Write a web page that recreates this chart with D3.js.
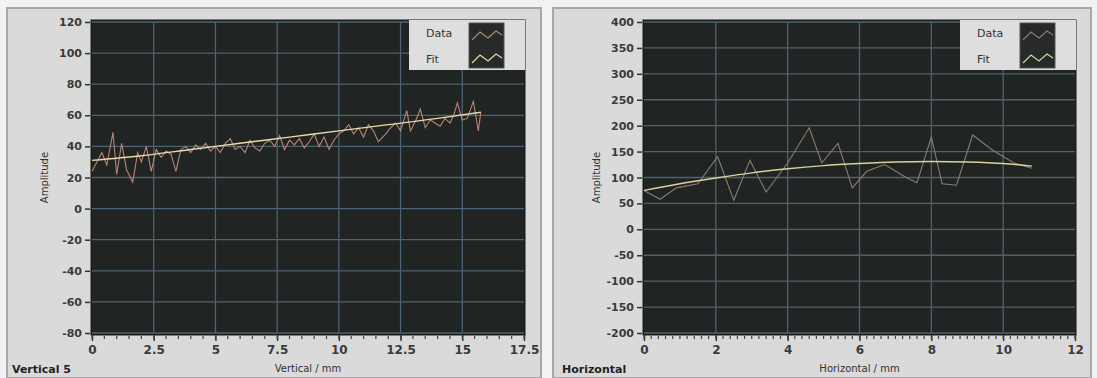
<!DOCTYPE html>
<html><head><meta charset="utf-8">
<script src="https://cdn.jsdelivr.net/npm/d3@7"></script>
<style>
body{margin:0;background:#f2f2f2;}
svg{display:block;}
text{font-family:"DejaVu Sans",sans-serif;}
</style></head><body>
<svg id="c" width="1097" height="378"></svg>
<script>
// ---- Left chart: Vertical 5 ----
const vX = [0,0.2,0.4,0.6,0.85,1.0,1.2,1.4,1.65,1.85,2.0,2.2,2.4,2.6,2.8,3.0,3.2,3.4,3.6,3.8,4.0,4.2,4.4,4.6,4.8,5.0,5.2,5.4,5.6,5.8,6.0,6.2,6.4,6.6,6.8,7.0,7.2,7.4,7.6,7.8,8.0,8.2,8.4,8.6,8.8,9.0,9.2,9.4,9.6,9.8,10.0,10.2,10.4,10.6,10.8,11.0,11.2,11.4,11.6,11.9,12.1,12.3,12.5,12.75,12.9,13.1,13.3,13.5,13.7,13.9,14.1,14.3,14.5,14.65,14.8,15.0,15.2,15.45,15.65,15.75];
const vData = [24,30,36,28,49,22,42,25,17,36,30,40,24,38,33,37,35,24,38,40,36,41,38,42,37,40,36,42,45,38,40,36,44,39,37,42,44,40,47,38,44,41,45,39,43,48,40,46,38,44,48,50,54,48,52,46,54,50,43,48,52,55,50,63,50,56,64,52,57,55,53,58,55,60,68,57,58,69,50,62];
const vFitX = [0,2,4,6,8,10,12,14,15.75];
const vFit = [31,34,38,42,46,50,54,58,62];
const vYTicks = [120,100,80,60,40,20,0,-20,-40,-60,-80];
const vXTicks = [0,2.5,5,7.5,10,12.5,15,17.5];

// ---- Right chart: Horizontal ----
const hX = [0,0.45,0.9,1.5,2.05,2.5,2.95,3.4,4.0,4.6,4.95,5.4,5.8,6.2,6.7,7.3,7.6,8.0,8.3,8.7,9.15,9.7,10.3,10.8];
const hData = [75,58,80,88,140,56,133,72,128,196,128,166,80,112,125,100,90,178,88,85,182,153,128,118];
const hFitX = [0,1,2,3,4,5,6,7,8,9,10,10.8];
const hFit = [75,88,99,109,117,123,127,130,131,130,127,122];
const hYTicks = [400,350,300,250,200,150,100,50,0,-50,-100,-150,-200];
const hXTicks = [0,2,4,6,8,10,12];

const svg = d3.select("#c");
const fmt = d => String(d);

function panel(x0, x1){
  svg.append("rect").attr("x",x0).attr("y",8).attr("width",x1-x0).attr("height",370)
    .attr("fill","#dadada").attr("stroke","#a8a8a8").attr("stroke-width",2);
}
panel(7,541);
panel(553,1091);

function chart(cfg){
  const g = svg.append("g");
  const x = d3.scaleLinear().domain(cfg.xDomain).range([cfg.left, cfg.right]);
  const y = d3.scaleLinear().domain(cfg.yDomain).range([cfg.bottom, cfg.top]);
  g.append("rect").attr("x",cfg.left-1).attr("y",cfg.top-2).attr("width",cfg.right-cfg.left+2)
    .attr("height",cfg.bottom-cfg.top+4).attr("fill","#202423").attr("stroke","#151717");
  g.append("g").selectAll("line").data(cfg.yTicks).join("line")
    .attr("x1",cfg.left).attr("x2",cfg.right).attr("y1",d=>y(d)).attr("y2",d=>y(d))
    .attr("stroke","#4d6272").attr("stroke-width",1.3);
  g.append("g").selectAll("line").data(cfg.xTicks.slice(1,-1)).join("line")
    .attr("y1",cfg.top).attr("y2",cfg.bottom).attr("x1",d=>x(d)).attr("x2",d=>x(d))
    .attr("stroke","#4d6272").attr("stroke-width",1.3);
  const ya = d3.axisLeft(y).tickValues(cfg.yTicks).tickFormat(fmt).tickSize(5).tickPadding(3);
  const yg = g.append("g").attr("transform",`translate(${cfg.left-2},0)`).call(ya);
  yg.select(".domain").remove();
  yg.selectAll("line").attr("stroke","#333").attr("stroke-width",1.5);
  yg.selectAll("text").attr("font-size",11).attr("font-family","DejaVu Sans Condensed, DejaVu Sans").attr("font-weight","bold").attr("fill","#3a3a3a");
  const xa = d3.axisBottom(x).tickValues(cfg.xTicks).tickFormat(fmt).tickSize(6).tickPadding(4);
  const xg = g.append("g").attr("transform",`translate(0,${cfg.bottom+2})`).call(xa);
  xg.select(".domain").remove();
  xg.selectAll("line").attr("stroke","#333").attr("stroke-width",1.5);
  xg.selectAll("text").attr("font-size",12).attr("font-weight","bold").attr("fill","#3a3a3a");
  const minor = d3.range(cfg.xDomain[0], cfg.xDomain[1]+1e-9, cfg.minorStep);
  g.append("g").selectAll("line").data(minor).join("line")
    .attr("x1",d=>x(d)).attr("x2",d=>x(d)).attr("y1",cfg.bottom+3).attr("y2",cfg.bottom+6)
    .attr("stroke","#444").attr("stroke-width",1.2);
  const line = d3.line().x(d=>x(d[0])).y(d=>y(d[1]));
  g.append("path").datum(cfg.dataX.map((v,i)=>[v,cfg.data[i]])).attr("d",line)
    .attr("fill","none").attr("stroke",cfg.dataColor).attr("stroke-width",1.1);
  g.append("path").datum(cfg.fitX.map((v,i)=>[v,cfg.fit[i]])).attr("d",d3.line().curve(d3.curveMonotoneX).x(d=>x(d[0])).y(d=>y(d[1])))
    .attr("fill","none").attr("stroke",cfg.fitColor).attr("stroke-width",1.4);
  const lx = cfg.right - 115, ly = cfg.top - 2;
  g.append("rect").attr("x",lx).attr("y",ly).attr("width",116).attr("height",50).attr("fill","#dedede");
  g.append("text").attr("x",lx+17).attr("y",ly+17).text("Data").attr("font-size",11).attr("fill","#333");
  g.append("text").attr("x",lx+17).attr("y",ly+43).text("Fit").attr("font-size",11).attr("fill","#333");
  g.append("rect").attr("x",lx+60).attr("y",ly+3).attr("width",35).attr("height",45)
    .attr("fill","#262a28").attr("stroke","#555");
  const zz = (yy,col)=> g.append("polyline")
    .attr("points",`${lx+63},${yy+8} ${lx+71},${yy} ${lx+79},${yy+6} ${lx+87},${yy-1} ${lx+93},${yy+3}`)
    .attr("fill","none").attr("stroke",col).attr("stroke-width",1.2);
  zz(ly+12, cfg.dataColor);
  zz(ly+35, cfg.fitColor);
  g.append("text").attr("transform",`translate(${cfg.left-44},${(cfg.top+cfg.bottom)/2}) rotate(-90)`)
    .attr("text-anchor","middle").attr("font-size",10).attr("fill","#333").text("Amplitude");
  g.append("text").attr("x",(cfg.left+cfg.right)/2).attr("y",372).attr("text-anchor","middle")
    .attr("font-size",10).attr("fill","#333").text(cfg.xLabel);
  g.append("text").attr("x",cfg.titleX).attr("y",373).attr("font-size",11).attr("font-weight","bold")
    .attr("fill","#222").text(cfg.title);
}

chart({left:92,right:524,top:22,bottom:333,xDomain:[0,17.5],yDomain:[-80,120],
  xTicks:vXTicks,yTicks:vYTicks,minorStep:0.5,dataX:vX,data:vData,fitX:vFitX,fit:vFit,
  dataColor:"#b88474",fitColor:"#e6dcaa",xLabel:"Vertical / mm",title:"Vertical 5",titleX:12});
chart({left:644,right:1075,top:22,bottom:333,xDomain:[0,12],yDomain:[-200,400],
  xTicks:hXTicks,yTicks:hYTicks,minorStep:0.2,dataX:hX,data:hData,fitX:hFitX,fit:hFit,
  dataColor:"#8c7c70",fitColor:"#d8d49a",xLabel:"Horizontal / mm",title:"Horizontal",titleX:562});
</script>
</body></html>
